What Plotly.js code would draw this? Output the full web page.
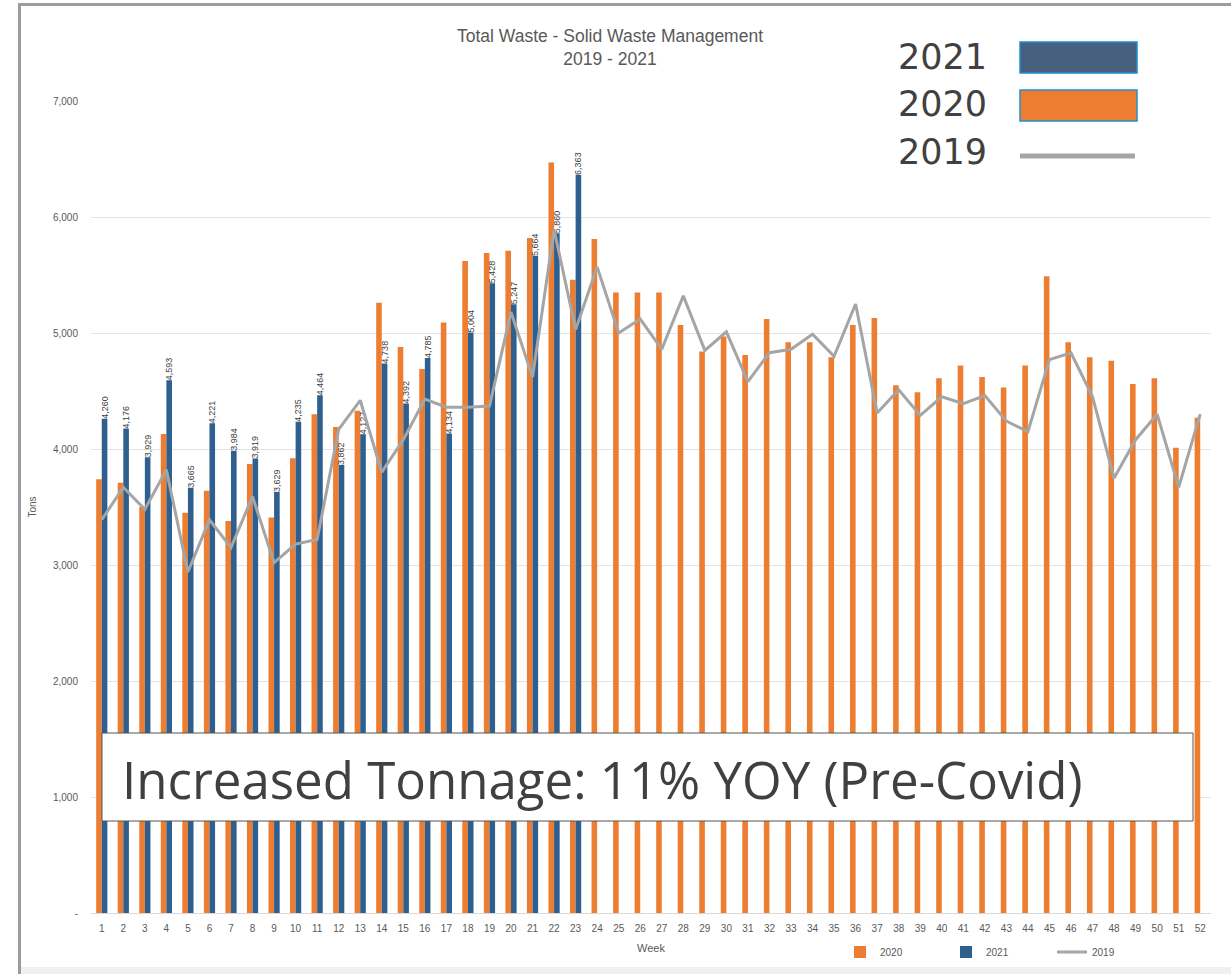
<!DOCTYPE html>
<html>
<head>
<meta charset="utf-8">
<script src="https://cdn.plot.ly/plotly-3.0.1.min.js"></script>
<style>
  html, body { margin: 0; padding: 0; background: #ffffff; }
  #chart { width: 1231px; height: 974px; }
  #frame { position: absolute; left: 18px; top: 3px; width: 1213px; height: 971px;
           border-top: 3px solid #9c9c9c; border-left: 3px solid #9c9c9c; pointer-events: none; }
  #bottomband { position: absolute; left: 21px; top: 967px; width: 1210px; height: 7px; background: #f0f0f0; }
</style>
</head>
<body>
<div id="chart"></div>
<div id="frame"></div>
<div id="bottomband"></div>
<script>
// ---- data ----
const weeks = Array.from({length: 52}, (_, i) => String(i + 1));

const tons2020 = [3740, 3710, 3500, 4130, 3450, 3640, 3380, 3870, 3410, 3920,
                  4300, 4190, 4330, 5260, 4880, 4690, 5090, 5620, 5690, 5710,
                  5820, 6470, 5460, 5810, 5350, 5350, 5350, 5070, 4840, 4970,
                  4810, 5120, 4920, 4920, 4790, 5070, 5130, 4550, 4490, 4610,
                  4720, 4620, 4530, 4720, 5490, 4920, 4790, 4760, 4560, 4610,
                  4010, 4270];

const tons2021 = [4260, 4176, 3929, 4593, 3665, 4221, 3984, 3919, 3629, 4235,
                  4464, 3862, 4127, 4738, 4392, 4785, 4134, 5004, 5428, 5247,
                  5664, 5860, 6363];

const tons2019 = [3390, 3670, 3480, 3820, 2940, 3390, 3150, 3590, 3020, 3180,
                  3220, 4170, 4420, 3800, 4080, 4430, 4360, 4360, 4370, 5180,
                  4620, 5890, 5030, 5570, 5000, 5120, 4860, 5320, 4850, 5010,
                  4580, 4830, 4860, 4990, 4800, 5250, 4310, 4510, 4290, 4450,
                  4390, 4460, 4240, 4150, 4770, 4830, 4450, 3750, 4080, 4300,
                  3670, 4300];

const yTickVals = [0, 1000, 2000, 3000, 4000, 5000, 6000, 7000];
const yTickText = ['-', '1,000', '2,000', '3,000', '4,000', '5,000', '6,000', '7,000'];

const seriesNames = ['2020', '2021', '2019'];
const chartTitle = 'Total Waste - Solid Waste Management<br>2019 - 2021';
const xTitle = 'Week';
const yTitle = 'Tons';
const calloutText = 'Increased Tonnage: 11% YOY (Pre-Covid)';

// ---- layout helpers (pixel -> paper) ----
const W = 1231, H = 974;
const M = {l: 91, r: 20, t: 101, b: 61, autoexpand: false};
const PW = W - M.l - M.r, PH = H - M.t - M.b;
const px = x => (x - M.l) / PW;
const py = y => (H - M.b - y) / PH;

const FONT = '"Liberation Sans", Arial, sans-serif';
const BIG = '"Open Sans", "Liberation Sans", sans-serif';
const LEG = '"DejaVu Sans", "Open Sans", sans-serif';

const traces = [
  {
    type: 'bar', name: seriesNames[0], x: weeks, y: tons2020,
    marker: {color: '#ED7D31'}
  },
  {
    type: 'bar', name: seriesNames[1], x: weeks.slice(0, tons2021.length), y: tons2021,
    marker: {color: '#2E5F8F'},
    texttemplate: '%{y:,}', textposition: 'outside', textangle: -90,
    constraintext: 'none', cliponaxis: false,
    textfont: {size: 9, color: '#404040', family: FONT}
  },
  {
    type: 'scatter', mode: 'lines', name: seriesNames[2], x: weeks, y: tons2019,
    line: {color: '#A5A5A5', width: 3}
  }
];

const layout = {
  width: W, height: H,
  margin: M,
  paper_bgcolor: 'rgba(0,0,0,0)', plot_bgcolor: '#ffffff',
  font: {family: FONT, color: '#595959', size: 10},
  title: {
    text: chartTitle, x: 610 / W, xref: 'container', xanchor: 'center',
    y: 1 - 42 / H, yref: 'container', yanchor: 'middle',
    font: {size: 17.5, color: '#595959', family: FONT}
  },
  barmode: 'group', bargap: 0.48, bargroupgap: 0.0,
  xaxis: {
    type: 'category', showgrid: false, showline: true, linecolor: '#d9d9d9',
    tickfont: {size: 10, color: '#595959'}, ticks: '', ticklabelstandoff: 6,
    automargin: false
  },
  yaxis: {
    range: [0, 7000], tickvals: yTickVals, ticktext: yTickText,
    showgrid: true, gridcolor: '#e4e4e4', gridwidth: 1, zeroline: false,
    tickfont: {size: 10, color: '#595959'}, ticks: '', ticklabelstandoff: 12,
    automargin: false,
    title: {text: yTitle, font: {size: 10, color: '#595959'}, standoff: 14}
  },
  legend: {
    orientation: 'h', x: px(840), xanchor: 'left',
    yref: 'container', y: 1 - 952 / H, yanchor: 'middle',
    font: {size: 10, color: '#595959'}, traceorder: 'normal',
    entrywidth: 61, entrywidthmode: 'pixels'
  },
  shapes: [
    {type: 'rect', xref: 'paper', yref: 'paper', x0: px(1020), x1: px(1137), y0: py(73), y1: py(42),
     fillcolor: '#46607E', line: {color: '#1F8FD0', width: 1.5}},
    {type: 'rect', xref: 'paper', yref: 'paper', x0: px(1020), x1: px(1137), y0: py(121), y1: py(90),
     fillcolor: '#ED7D31', line: {color: '#1F8FD0', width: 1.5}},
    {type: 'line', xref: 'paper', yref: 'paper', x0: px(1020), x1: px(1135), y0: py(156), y1: py(156),
     line: {color: '#A5A5A5', width: 5}},
    {type: 'rect', xref: 'paper', yref: 'paper', layer: 'above',
     x0: px(102), x1: px(1193), y0: py(821), y1: py(733),
     fillcolor: '#ffffff', line: {color: '#555555', width: 1}}
  ],
  annotations: [
    {xref: 'paper', yref: 'paper', x: 0.5, y: py(948), xanchor: 'center', yanchor: 'middle',
     text: xTitle, showarrow: false, font: {family: FONT, size: 11, color: '#595959'}},
    {xref: 'paper', yref: 'paper', x: px(896), y: py(57), xanchor: 'left', yanchor: 'middle',
     text: seriesNames[1], showarrow: false, font: {family: LEG, size: 35, color: '#404040'}},
    {xref: 'paper', yref: 'paper', x: px(896), y: py(104), xanchor: 'left', yanchor: 'middle',
     text: seriesNames[0], showarrow: false, font: {family: LEG, size: 35, color: '#404040'}},
    {xref: 'paper', yref: 'paper', x: px(896), y: py(152), xanchor: 'left', yanchor: 'middle',
     text: seriesNames[2], showarrow: false, font: {family: LEG, size: 35, color: '#404040'}},
    {xref: 'paper', yref: 'paper', x: px(120), y: py(779), xanchor: 'left', yanchor: 'middle',
     align: 'left', text: calloutText, showarrow: false,
     font: {family: BIG, size: 51, color: '#404040'}}
  ]
};

Plotly.newPlot('chart', traces, layout, {displayModeBar: false, staticPlot: true});
</script>
</body>
</html>
